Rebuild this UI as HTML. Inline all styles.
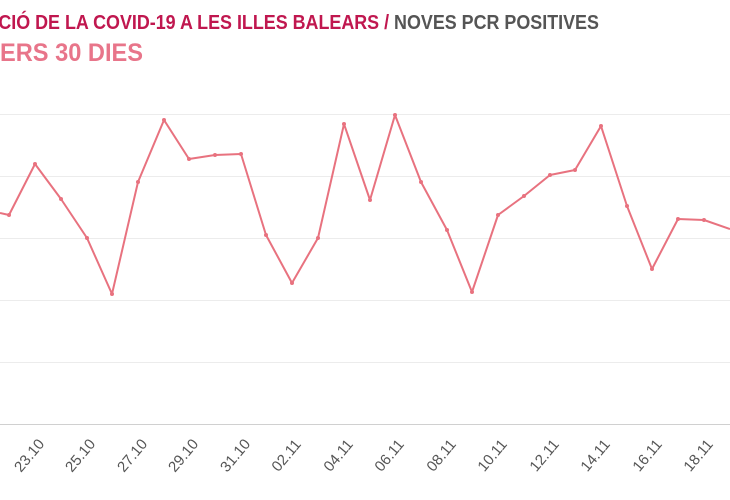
<!DOCTYPE html>
<html><head><meta charset="utf-8"><style>
html,body{margin:0;padding:0;background:#fff;width:730px;height:500px;overflow:hidden;position:relative}
svg{display:block;position:absolute;left:0;top:0}
.l{position:absolute;top:447px;width:50px;height:18px;line-height:18px;text-align:center;font:15px "Liberation Sans",sans-serif;color:#555;transform:rotate(-50deg);transform-origin:50% 50%;white-space:nowrap}
</style></head><body>
<svg width="730" height="500" xmlns="http://www.w3.org/2000/svg" font-family="Liberation Sans, sans-serif">
<text x="-2" y="29" font-size="20" font-weight="bold" fill="#c0174f" transform="scale(0.84,1)" textLength="715" lengthAdjust="spacingAndGlyphs">CIÓ DE LA COVID-19 A LES ILLES BALEARS <tspan fill="#c0174f">/</tspan> <tspan fill="#555">NOVES PCR POSITIVES</tspan></text>
<text x="0" y="61" font-size="25" font-weight="bold" fill="#e8758a" textLength="143" lengthAdjust="spacingAndGlyphs">ERS 30 DIES</text>
<g stroke="#ececec" stroke-width="1">
<line x1="0" y1="114.5" x2="730" y2="114.5"/>
<line x1="0" y1="176.5" x2="730" y2="176.5"/>
<line x1="0" y1="238.5" x2="730" y2="238.5"/>
<line x1="0" y1="300.5" x2="730" y2="300.5"/>
<line x1="0" y1="362.5" x2="730" y2="362.5"/>
</g>
<line x1="0" y1="424.5" x2="730" y2="424.5" stroke="#d0d0d0" stroke-width="1"/>
<polyline fill="none" stroke="#e8727f" stroke-width="2" stroke-linejoin="round" points="0,213 9,215 35,164 61,199 87,238 112,294 138,182 164,120 189,159 215,155 241,154 266,235 292,283 318,238 344,124 370,200 395,115 421,182 447,230 472,292 498,215 524,196 550,175 575,170 601,126 627,206 652,269 678,219 704,220 730,229"/>
<g fill="#e8727f">
<circle cx="9" cy="215" r="2"/><circle cx="35" cy="164" r="2"/><circle cx="61" cy="199" r="2"/><circle cx="87" cy="238" r="2"/><circle cx="112" cy="294" r="2"/><circle cx="138" cy="182" r="2"/><circle cx="164" cy="120" r="2"/><circle cx="189" cy="159" r="2"/><circle cx="215" cy="155" r="2"/><circle cx="241" cy="154" r="2"/><circle cx="266" cy="235" r="2"/><circle cx="292" cy="283" r="2"/><circle cx="318" cy="238" r="2"/><circle cx="344" cy="124" r="2"/><circle cx="370" cy="200" r="2"/><circle cx="395" cy="115" r="2"/><circle cx="421" cy="182" r="2"/><circle cx="447" cy="230" r="2"/><circle cx="472" cy="292" r="2"/><circle cx="498" cy="215" r="2"/><circle cx="524" cy="196" r="2"/><circle cx="550" cy="175" r="2"/><circle cx="575" cy="170" r="2"/><circle cx="601" cy="126" r="2"/><circle cx="627" cy="206" r="2"/><circle cx="652" cy="269" r="2"/><circle cx="678" cy="219" r="2"/><circle cx="704" cy="220" r="2"/>
</g>
</svg>
<div class="l" style="left:5px">23.10</div>
<div class="l" style="left:56px">25.10</div>
<div class="l" style="left:108px">27.10</div>
<div class="l" style="left:159px">29.10</div>
<div class="l" style="left:211px">31.10</div>
<div class="l" style="left:262px">02.11</div>
<div class="l" style="left:314px">04.11</div>
<div class="l" style="left:365px">06.11</div>
<div class="l" style="left:417px">08.11</div>
<div class="l" style="left:468px">10.11</div>
<div class="l" style="left:520px">12.11</div>
<div class="l" style="left:571px">14.11</div>
<div class="l" style="left:623px">16.11</div>
<div class="l" style="left:674px">18.11</div>
</body></html>
